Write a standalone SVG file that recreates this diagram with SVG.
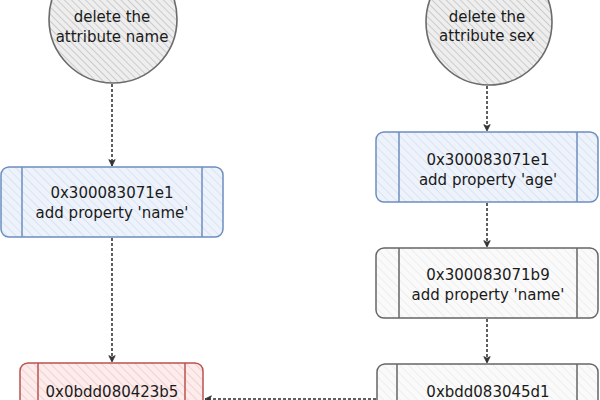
<svg xmlns="http://www.w3.org/2000/svg" width="600" height="400" viewBox="0 0 600 400">
<defs>
<pattern id="hGrey" patternUnits="userSpaceOnUse" width="5" height="5" patternTransform="rotate(-45)"><rect width="5" height="5" fill="#eeeeee"/><line x1="0" y1="0" x2="0" y2="5" stroke="#b5b5b5" stroke-width="1.2"/></pattern>
<pattern id="hBlue" patternUnits="userSpaceOnUse" width="6" height="6" patternTransform="rotate(-45)"><rect width="6" height="6" fill="#eef3fb"/><line x1="0" y1="0" x2="0" y2="6" stroke="#c9d8ef" stroke-width="1.2"/></pattern>
<pattern id="hRed" patternUnits="userSpaceOnUse" width="6" height="6" patternTransform="rotate(-45)"><rect width="6" height="6" fill="#fcecec"/><line x1="0" y1="0" x2="0" y2="6" stroke="#efbdbd" stroke-width="1.2"/></pattern>
<pattern id="hLight" patternUnits="userSpaceOnUse" width="6" height="6" patternTransform="rotate(-45)"><rect width="6" height="6" fill="#fafafa"/><line x1="0" y1="0" x2="0" y2="6" stroke="#e6e6e6" stroke-width="1.2"/></pattern>
<marker id="arr" viewBox="0 0 10 10" refX="9" refY="5" markerWidth="8" markerHeight="8" orient="auto" markerUnits="userSpaceOnUse"><path d="M1,1 L9,5 L1,9 L3,5 Z" fill="#333" stroke="#333" stroke-width="1"/></marker>
</defs>
<style>
.t{font-family:"Comic Sans MS","DejaVu Sans","Noto Sans",sans-serif;font-size:15px;fill:#1a1a1a;text-anchor:middle}
.c{fill:url(#hGrey);stroke:#6b6b6b;stroke-width:1.6}
.bb{fill:url(#hBlue);stroke:#6c8ebf;stroke-width:1.5}
.br{fill:url(#hRed);stroke:#b85450;stroke-width:1.5}
.bg{fill:url(#hLight);stroke:#666;stroke-width:1.5}
.ib{stroke:#6c8ebf;stroke-width:1.5}
.ir{stroke:#b85450;stroke-width:1.5}
.ig{stroke:#666;stroke-width:1.5}
.e{fill:none;stroke:#2a2a2a;stroke-width:1.5;stroke-dasharray:3 2;marker-end:url(#arr)}
</style>
<g id="edges">
<line class="e" x1="112" y1="84" x2="112" y2="166"/>
<line class="e" x1="112" y1="238" x2="112" y2="362"/>
<line class="e" x1="487" y1="86" x2="487" y2="131"/>
<line class="e" x1="487" y1="203" x2="487" y2="247"/>
<line class="e" x1="487" y1="319" x2="487" y2="363"/>
<line class="e" x1="376" y1="399" x2="205" y2="399"/>
</g>
<g id="n1">
<circle class="c" cx="113" cy="19" r="64"/>
<text class="t" x="112" y="22">delete the</text>
<text class="t" x="112" y="42">attribute name</text>
</g>
<g id="n2">
<circle class="c" cx="489" cy="22" r="63"/>
<text class="t" x="487" y="22">delete the</text>
<text class="t" x="487" y="41">attribute sex</text>
</g>
<g id="n3">
<rect class="bb" x="1" y="167" width="222" height="70" rx="8"/>
<line class="ib" x1="22" y1="167" x2="22" y2="237"/>
<line class="ib" x1="202" y1="167" x2="202" y2="237"/>
<text class="t" x="112" y="198">0x300083071e1</text>
<text class="t" x="112" y="218">add property 'name'</text>
</g>
<g id="n4">
<rect class="bb" x="376" y="132" width="222" height="70" rx="8"/>
<line class="ib" x1="399" y1="132" x2="399" y2="202"/>
<line class="ib" x1="577" y1="132" x2="577" y2="202"/>
<text class="t" x="488" y="165">0x300083071e1</text>
<text class="t" x="488" y="185">add property 'age'</text>
</g>
<g id="n5">
<rect class="bg" x="376" y="248" width="222" height="70" rx="8"/>
<line class="ig" x1="399" y1="248" x2="399" y2="318"/>
<line class="ig" x1="577" y1="248" x2="577" y2="318"/>
<text class="t" x="488" y="280">0x300083071b9</text>
<text class="t" x="488" y="300">add property 'name'</text>
</g>
<g id="n6">
<rect class="br" x="20" y="363" width="183" height="70" rx="8"/>
<line class="ir" x1="38" y1="363" x2="38" y2="433"/>
<line class="ir" x1="185" y1="363" x2="185" y2="433"/>
<text class="t" x="112" y="397">0x0bdd080423b5</text>
</g>
<g id="n7">
<rect class="bg" x="377" y="364" width="221" height="70" rx="8"/>
<line class="ig" x1="397" y1="364" x2="397" y2="434"/>
<line class="ig" x1="577" y1="364" x2="577" y2="434"/>
<text class="t" x="488" y="397">0xbdd083045d1</text>
</g>
</svg>
